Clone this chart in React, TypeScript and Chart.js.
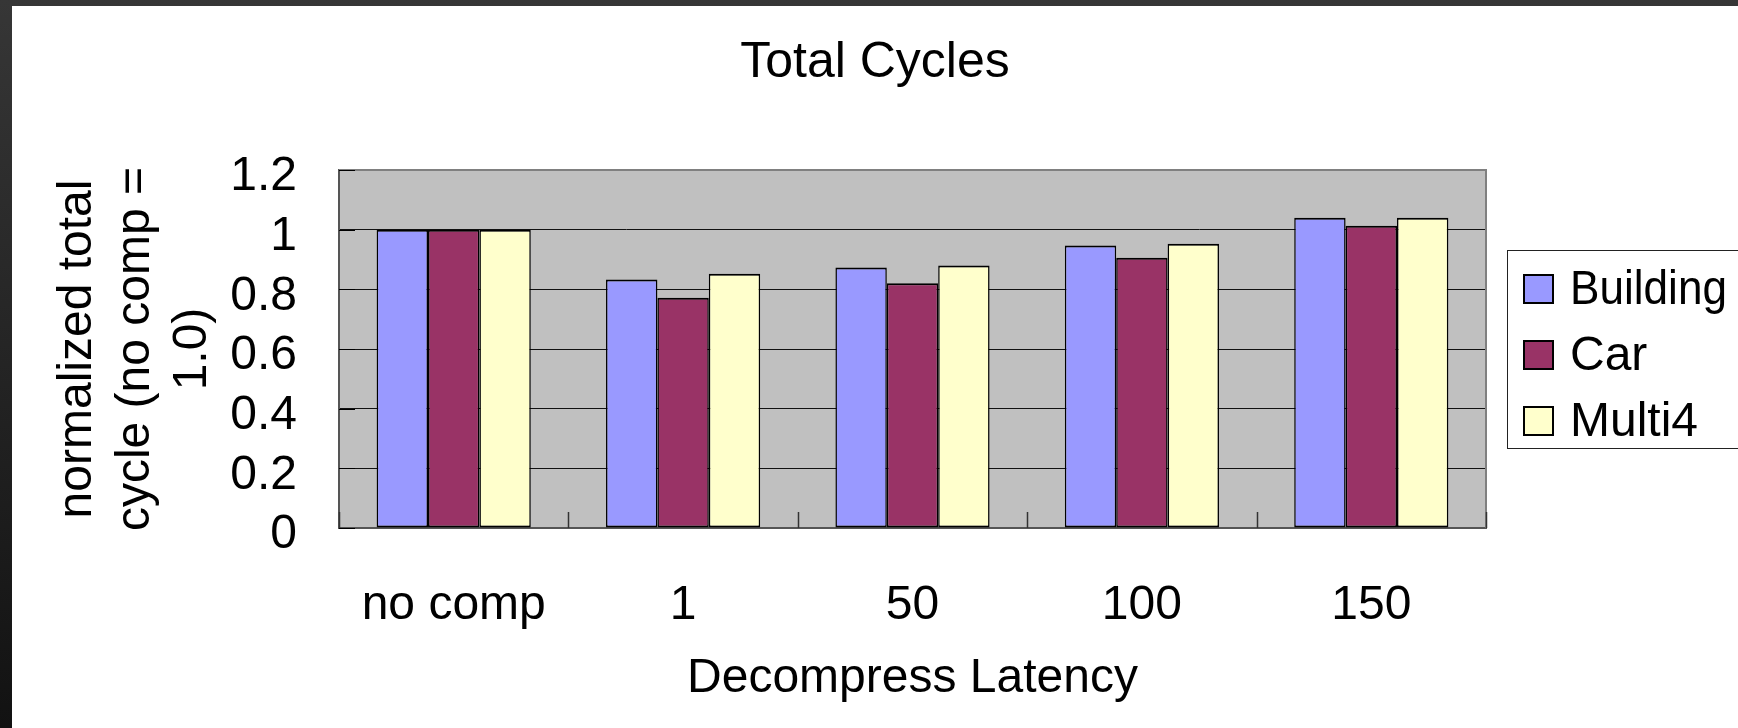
import React, { useEffect, useRef } from "react";
import { Chart, registerables } from "chart.js";

Chart.register(...registerables);

// Decompress latency settings along the category axis
const categories = ["no comp", "1", "50", "100", "150"];

// Normalized total cycles per benchmark (no comp = 1.0)
const building = [1.0, 0.833, 0.873, 0.947, 1.04];
const car = [1.0, 0.772, 0.82, 0.906, 1.013];
const multi4 = [1.0, 0.852, 0.88, 0.953, 1.04];

const seriesNames = ["Building", "Car", "Multi4"];
const seriesColors = ["#9999FF", "#993366", "#FFFFCC"];

const yTickValues = [0, 0.2, 0.4, 0.6, 0.8, 1, 1.2];
const yTickLabels = ["0", "0.2", "0.4", "0.6", "0.8", "1", "1.2"];

const chartTitle = "Total Cycles";
const xTitle = "Decompress Latency";
const yTitle = ["normalized total", "cycle (no comp =", "1.0)"];

const FONT_FAMILY = '"Liberation Sans", Arial, Helvetica, sans-serif';
const baseFont = { family: FONT_FAMILY, size: 48, weight: "normal" as const };
const titleFont = { family: FONT_FAMILY, size: 50, weight: "normal" as const };

// Grey plot background, plot frame, inward tick marks and the boxed legend
const excelStyle = {
  id: "excelStyle",
  beforeDraw(chart: any) {
    const { ctx, chartArea: a, width, height } = chart;
    ctx.save();
    ctx.fillStyle = "#FFFFFF";
    ctx.fillRect(0, 0, width, height);
    ctx.fillStyle = "#C0C0C0";
    ctx.fillRect(a.left, a.top, a.right - a.left, a.bottom - a.top);
    ctx.restore();
  },
  beforeDatasetsDraw(chart: any) {
    const { ctx, chartArea: a, scales } = chart;
    const xs = scales.x;
    const ys = scales.y;
    ctx.save();
    // top and right frame
    ctx.strokeStyle = "#808080";
    ctx.lineWidth = 2;
    ctx.beginPath();
    ctx.moveTo(a.left, a.top);
    ctx.lineTo(a.right, a.top);
    ctx.lineTo(a.right, a.bottom);
    ctx.stroke();
    // inward ticks on the category boundaries
    ctx.strokeStyle = "#333333";
    ctx.lineWidth = 1.5;
    for (let i = 0; i <= categories.length; i++) {
      const x = Math.round(xs.getPixelForValue(i - 0.5)) + 0.5;
      ctx.beginPath();
      ctx.moveTo(x, a.bottom);
      ctx.lineTo(x, a.bottom - 16);
      ctx.stroke();
    }
    // inward ticks on the value axis
    ctx.strokeStyle = "#000000";
    ctx.lineWidth = 1;
    for (const v of yTickValues) {
      const y = Math.round(ys.getPixelForValue(v)) + 0.5;
      ctx.beginPath();
      ctx.moveTo(a.left, y);
      ctx.lineTo(a.left + 16, y);
      ctx.stroke();
    }
    ctx.restore();
  },
  afterDraw(chart: any) {
    const { ctx, chartArea: a, width } = chart;
    const mid = (a.top + a.bottom) / 2;
    const boxLeft = a.right + 21;
    const boxTop = mid - 99;
    const boxBottom = mid + 99;
    ctx.save();
    ctx.strokeStyle = "#222222";
    ctx.lineWidth = 1;
    ctx.strokeRect(Math.round(boxLeft) + 0.5, Math.round(boxTop) + 0.5, width + 20 - boxLeft, boxBottom - boxTop);
    ctx.font = `48px ${FONT_FAMILY}`;
    ctx.textBaseline = "middle";
    ctx.textAlign = "left";
    chart.data.datasets.forEach((ds: any, i: number) => {
      const cy = mid - 60 + 66 * i;
      const sx = boxLeft + 16;
      ctx.fillStyle = "#000000";
      ctx.fillRect(sx, cy - 15, 31, 30);
      ctx.fillStyle = ds.backgroundColor;
      ctx.fillRect(sx + 2, cy - 13, 27, 26);
      ctx.fillStyle = "#000000";
      ctx.fillText(ds.label, boxLeft + 63, cy + 2, 157);
    });
    ctx.restore();
  },
};

export default function App() {
  const canvasRef = useRef<HTMLCanvasElement | null>(null);

  useEffect(() => {
    const canvas = canvasRef.current;
    if (!canvas) return;
    const seriesValues = [building, car, multi4];
    const chart = new Chart(canvas, {
      type: "bar",
      data: {
        labels: categories,
        datasets: seriesNames.map((name, i) => ({
          label: name,
          data: seriesValues[i],
          backgroundColor: seriesColors[i],
          borderColor: "#000000",
          borderWidth: { top: 2, left: 1.5, right: 1.5, bottom: 2 },
          borderSkipped: false,
          categoryPercentage: 0.672,
          barPercentage: 1.0,
        })),
      },
      options: {
        responsive: false,
        animation: false,
        devicePixelRatio: 1,
        layout: { padding: 0 },
        plugins: {
          legend: { display: false },
          tooltip: { enabled: false },
          title: {
            display: true,
            text: chartTitle,
            color: "#000000",
            font: titleFont,
            padding: { top: 27, bottom: 77 },
          },
        },
        scales: {
          x: {
            type: "category",
            offset: true,
            grid: { display: false, drawTicks: false },
            border: { display: true, color: "#555555", width: 2 },
            ticks: {
              color: "#000000",
              font: baseFont,
              padding: 49,
              autoSkip: false,
              maxRotation: 0,
            },
            title: {
              display: true,
              text: xTitle,
              color: "#000000",
              font: baseFont,
              padding: { top: 19, bottom: 20 },
            },
            afterFit: (s: any) => {
              s.height = 200;
            },
          },
          y: {
            min: 0,
            max: 1.2,
            afterBuildTicks: (s: any) => {
              s.ticks = yTickValues.map((v) => ({ value: v }));
            },
            grid: {
              color: (c: any) =>
                c.tick && (c.tick.value === 0 || c.tick.value === 1.2) ? "rgba(0,0,0,0)" : "#111111",
              lineWidth: 1,
              drawTicks: false,
            },
            border: { display: true, color: "#555555", width: 2 },
            ticks: {
              color: "#000000",
              font: baseFont,
              padding: 42,
              labelOffset: 7,
              autoSkip: false,
              callback: (_v: any, idx: number) => yTickLabels[idx],
            },
            title: {
              display: true,
              text: yTitle,
              color: "#000000",
              font: baseFont,
              padding: { top: 37, bottom: 0 },
            },
            afterFit: (s: any) => {
              s.width = 327;
            },
          },
          // empty right-hand box that leaves room for the legend
          legendSpace: {
            type: "linear",
            position: "right",
            display: true,
            grid: { display: false, drawTicks: false },
            border: { display: false },
            ticks: { display: false },
            afterFit: (s: any) => {
              s.width = 252;
            },
          },
        },
      },
      plugins: [excelStyle],
    } as any);
    return () => chart.destroy();
  }, []);

  return (
    <div
      style={{
        position: "fixed",
        left: 0,
        top: 0,
        width: 1738,
        height: 728,
        overflow: "hidden",
        background: "linear-gradient(#363636, #121212)",
      }}
    >
      <canvas
        ref={canvasRef}
        width={1726}
        height={722}
        style={{ position: "absolute", left: 12, top: 6 }}
      />
    </div>
  );
}
